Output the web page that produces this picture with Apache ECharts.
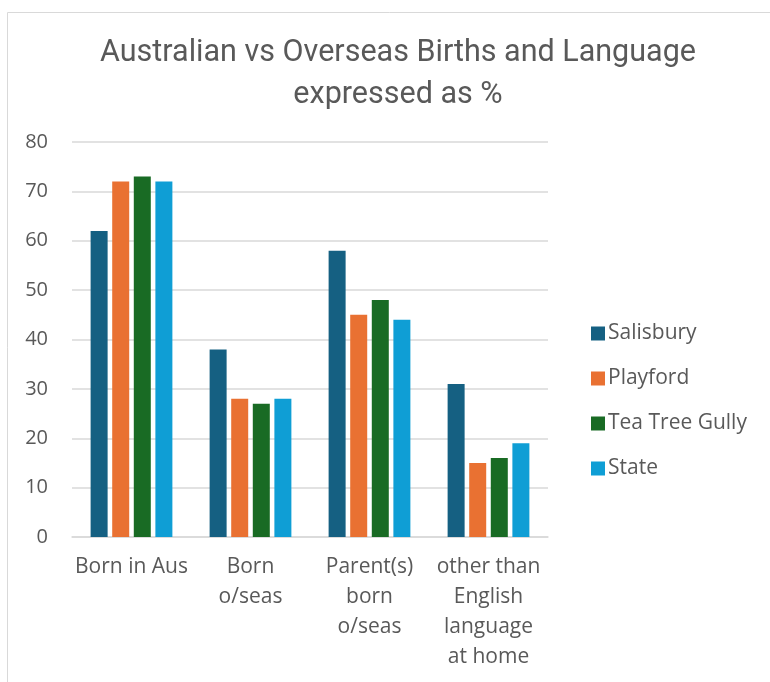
<!DOCTYPE html>
<html>
<head>
<meta charset="utf-8">
<script src="https://cdn.jsdelivr.net/npm/echarts@6/dist/echarts.min.js"></script>
<style>html,body{margin:0;padding:0;background:#fff;}#c{width:770px;height:682px;}</style>
</head>
<body>
<div id="c"></div>
<script>
const categories = ["Born in Aus", "Born o/seas", "Parent(s) born o/seas", "other than English language at home"];
const categoryLabels = ["Born in Aus", "Born\no/seas", "Parent(s)\nborn\no/seas", "other than\nEnglish\nlanguage\nat home"];
const seriesNames = ["Salisbury", "Playford", "Tea Tree Gully", "State"];
const salisbury = [62, 38, 58, 31];
const playford = [72, 28, 45, 15];
const teaTreeGully = [73, 27, 48, 16];
const state = [72, 28, 44, 19];
const yTicks = [0, 10, 20, 30, 40, 50, 60, 70, 80];
const colors = ["#156082", "#E97132", "#196B24", "#0F9ED5"];
const values = [salisbury, playford, teaTreeGully, state];

const font = "'Open Sans', 'Noto Sans', sans-serif";
const chart = echarts.init(document.getElementById('c'));
chart.setOption({
  animation: false,
  color: colors,
  graphic: [{
    type: 'rect', left: 5, top: 10, silent: true,
    shape: { width: 800, height: 700 },
    style: { fill: 'none', stroke: '#d9d9d9', lineWidth: 1 }
  }],
  title: {
    text: 'Australian vs Overseas Births and Language\nexpressed as %',
    left: 393, top: 27, textAlign: 'center',
    textStyle: { fontFamily: "'Roboto', sans-serif", fontSize: 30.5, fontWeight: 'normal', color: '#595959', lineHeight: 42 }
  },
  legend: {
    orient: 'vertical', left: 586, top: 316,
    itemWidth: 14, itemHeight: 14, itemGap: 20, icon: 'rect',
    textStyle: { fontFamily: font, fontSize: 21, color: '#595959', padding: [0, 0, 0, -2], lineHeight: 25 },
    data: seriesNames
  },
  grid: { left: 72, right: 222, top: 142, bottom: 145, containLabel: false },
  xAxis: {
    type: 'category', data: categories,
    axisLine: { lineStyle: { color: '#d9d9d9', width: 1.5 } },
    axisTick: { show: false },
    axisLabel: {
      interval: 0, margin: 15, fontFamily: font, fontSize: 21, color: '#595959', lineHeight: 30,
      formatter: (v, i) => categoryLabels[i]
    }
  },
  yAxis: {
    type: 'value', min: yTicks[0], max: yTicks[yTicks.length - 1], interval: 10,
    axisLine: { show: false }, axisTick: { show: false },
    splitLine: { lineStyle: { color: '#d9d9d9', width: 1.5 } },
    axisLabel: { margin: 24, fontFamily: font, fontSize: 20, color: '#595959' }
  },
  series: seriesNames.map((n, i) => ({
    name: n, type: 'bar', data: values[i], barWidth: 17, barGap: '27%',
    itemStyle: { color: colors[i] }
  }))
});
</script>
</body>
</html>
